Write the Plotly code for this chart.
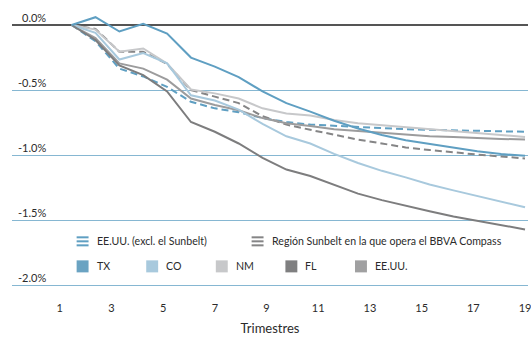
import plotly.graph_objects as go

# ---- data (percent change, quarters k = 0..19) ----
quarters = list(range(20))
tx = [0, 0.06, -0.05, 0.01, -0.065, -0.25, -0.32, -0.40, -0.51, -0.60, -0.665, -0.735, -0.795, -0.845, -0.885, -0.915, -0.945, -0.97, -0.99, -1.005]
co = [0, -0.06, -0.265, -0.215, -0.295, -0.54, -0.58, -0.65, -0.76, -0.855, -0.91, -0.99, -1.06, -1.12, -1.17, -1.225, -1.27, -1.315, -1.36, -1.40]
nm = [0, -0.035, -0.205, -0.18, -0.295, -0.495, -0.525, -0.565, -0.64, -0.68, -0.695, -0.73, -0.755, -0.77, -0.785, -0.805, -0.82, -0.835, -0.85, -0.86]
fl = [0, -0.115, -0.31, -0.385, -0.51, -0.745, -0.82, -0.91, -1.02, -1.11, -1.16, -1.23, -1.295, -1.345, -1.39, -1.43, -1.47, -1.505, -1.54, -1.57]
us = [0, -0.10, -0.295, -0.335, -0.42, -0.565, -0.615, -0.655, -0.715, -0.755, -0.775, -0.80, -0.815, -0.83, -0.845, -0.855, -0.86, -0.87, -0.875, -0.88]
us_ex = [0, -0.125, -0.335, -0.395, -0.475, -0.59, -0.64, -0.67, -0.715, -0.745, -0.765, -0.775, -0.785, -0.795, -0.80, -0.805, -0.81, -0.815, -0.815, -0.82]
sunbelt = [0, -0.03, -0.205, -0.205, -0.30, -0.50, -0.55, -0.60, -0.70, -0.765, -0.805, -0.845, -0.88, -0.91, -0.94, -0.96, -0.98, -0.995, -1.01, -1.025]

x_tick_labels = ["1", "3", "5", "7", "9", "11", "13", "15", "17", "19"]
y_tick_vals = [0.0, -0.5, -1.0, -1.5, -2.0]
y_tick_labels = ["0.0%", "-0.5%", "-1.0%", "-1.5%", "-2.0%"]

BLUE = "#5f9fc2"
LBLUE = "#a8c9dd"
LGRAY = "#c7c8ca"
DGRAY = "#7d7d7e"
MGRAY = "#9c9c9d"
DASHGRAY = "#858586"
GRID = "#86b7d2"
FONT = "Lato, 'Open Sans', sans-serif"
TXT = "#2b2b2b"

W, H = 531, 337
ML, MR, MT = 12, 0, 12
X_RANGE = [-2.5, 19.125]
Y_RANGE = [-2.02, 0.1]
plot_h = (Y_RANGE[1] - Y_RANGE[0]) * 130
MB = H - MT - plot_h

fig = go.Figure()

series = [
    ("EE.UU. (excl. el Sunbelt)", us_ex, BLUE, "7px,4px"),
    ("Región Sunbelt en la que opera el BBVA Compass", sunbelt, DASHGRAY, "7px,4px"),
    ("NM", nm, LGRAY, "solid"),
    ("EE.UU.", us, MGRAY, "solid"),
    ("CO", co, LBLUE, "solid"),
    ("FL", fl, DGRAY, "solid"),
    ("TX", tx, BLUE, "solid"),
]
for name, vals, col, dash in series:
    fig.add_trace(go.Scatter(x=quarters, y=vals, mode="lines", name=name,
                             line=dict(color=col, width=2, dash=dash),
                             showlegend=False))

# x tick positions: labels are spaced 26px per quarter, data 24px per quarter
x_tick_vals = [(26 * (int(t) - 1) - 12) / 24 for t in x_tick_labels]

fig.update_xaxes(range=X_RANGE, showgrid=False, zeroline=False, showline=False,
                 tickvals=x_tick_vals, ticktext=x_tick_labels, ticks="",
                 tickfont=dict(family=FONT, size=11, color=TXT),
                 ticklabelstandoff=12, ticklabeloverflow="allow",
                 title=dict(text="Trimestres", font=dict(family=FONT, size=13, color=TXT), standoff=10))
fig.update_yaxes(range=Y_RANGE, tickvals=y_tick_vals, showticklabels=False,
                 showgrid=True, gridcolor=GRID, gridwidth=1,
                 zeroline=True, zerolinecolor="#555555", zerolinewidth=1.5, showline=False)

annotations = []
for v, t in zip(y_tick_vals, y_tick_labels):
    annotations.append(dict(x=(48 - ML) / (W - ML - MR), xref="paper", y=v, yref="y",
                            text=t, showarrow=False, xanchor="right", yanchor="middle",
                            yshift=8, font=dict(family=FONT, size=11, color=TXT)))

def px_x(p):
    return (p - ML) / (W - ML - MR)

def px_y(p):
    return (H - MB - p) / plot_h

shapes = []
# legend row 1: dashed series (3-bar icons)
row1 = [("EE.UU. (excl. el Sunbelt)", BLUE, 77), ("Región Sunbelt en la que opera el BBVA Compass", DASHGRAY, 253)]
for label, col, x0 in row1:
    for dy in (-4, 0, 4):
        shapes.append(dict(type="rect", xref="paper", yref="paper",
                           x0=px_x(x0), x1=px_x(x0 + 12), y0=px_y(241 + dy + 1), y1=px_y(241 + dy - 1),
                           fillcolor=col, line=dict(width=0)))
    annotations.append(dict(x=px_x(x0 + 18), xref="paper", y=px_y(241), yref="paper", text=label,
                            showarrow=False, xanchor="left", yanchor="middle",
                            font=dict(family=FONT, size=10.6, color=TXT)))
row2 = [("TX", "#6aa3c2", 77), ("CO", LBLUE, 147), ("NM", LGRAY, 217), ("FL", "#7f7f80", 287), ("EE.UU.", "#a0a0a1", 357)]
for label, col, x0 in row2:
    shapes.append(dict(type="rect", xref="paper", yref="paper",
                       x0=px_x(x0), x1=px_x(x0 + 12), y0=px_y(272), y1=px_y(260),
                       fillcolor=col, line=dict(width=0)))
    annotations.append(dict(x=px_x(x0 + 18), xref="paper", y=px_y(266), yref="paper", text=label,
                            showarrow=False, xanchor="left", yanchor="middle",
                            font=dict(family=FONT, size=10.6, color=TXT)))

fig.update_layout(width=W, height=H, margin=dict(l=ML, r=MR, t=MT, b=MB, pad=0),
                  paper_bgcolor="white", plot_bgcolor="white",
                  annotations=annotations, shapes=shapes, showlegend=False)

fig.write_html("out.html")
